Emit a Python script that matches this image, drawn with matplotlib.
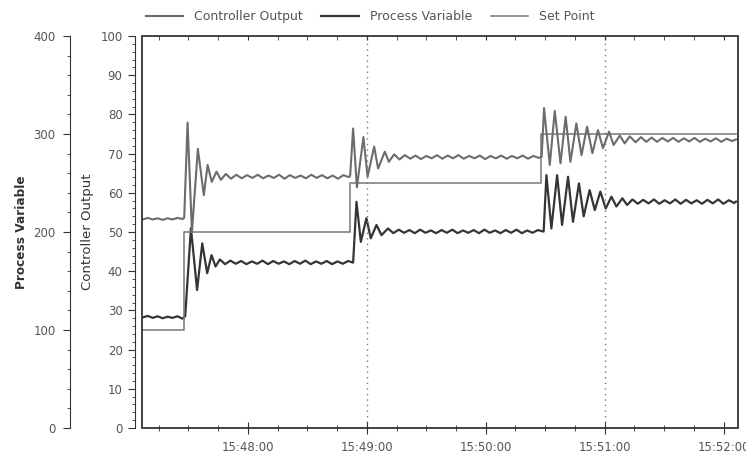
import matplotlib
matplotlib.use("Agg")
import matplotlib.pyplot as plt
from matplotlib.ticker import MultipleLocator, FixedLocator, FuncFormatter
from matplotlib.patches import Rectangle

plt.rcParams['font.family'] = ['DejaVu Sans']

# time in seconds after 15:47:00
co_t = [7, 9.5, 12, 14.5, 17, 19.5, 22, 24.5, 27.2, 27.9,
        29.6, 31.8, 34.8, 37.8, 39.7, 41.8, 44.2, 46.4, 48.9, 51.5, 54.2, 56.9, 59.6,
        62.3, 65.0, 67.7, 70.4, 73.1, 75.8, 78.5, 81.2, 83.9, 86.6, 89.3, 92.0, 94.7,
        97.4, 100.1, 102.8, 105.5, 108.2, 110.9, 111.6,
        113.1, 115.0, 118.3, 120.4, 123.7, 125.7, 129.1, 131.1, 133.8, 136.5, 139.2,
        141.9, 144.6, 147.3, 150.0, 152.7, 155.4, 158.1, 160.8, 163.5, 166.2, 168.9,
        171.6, 174.3, 177.0, 179.7, 182.4, 185.1, 187.8, 190.5, 193.2, 195.9, 198.6,
        201.3, 204.0, 206.7, 208.2,
        209.4, 212.3, 214.8, 217.7, 220.3, 222.7, 225.7, 228.3, 231.1, 233.8, 236.6,
        239.1, 242.2, 244.5, 247.6, 250.1, 252.6, 255.6, 258.3, 261.0, 263.7, 266.4,
        269.1, 271.8, 274.5, 277.2, 279.9, 282.6, 285.3, 288.0, 290.7, 293.4, 296.1,
        298.8, 301.5, 304.2, 306.2]
co_v = [53.2, 53.6, 53.2, 53.5, 53.1, 53.5, 53.2, 53.6, 53.3, 53.6,
        77.9, 50.0, 71.2, 59.4, 67.1, 62.8, 65.4, 63.3, 64.8, 63.6, 64.6, 63.7, 64.5,
        63.8, 64.6, 63.7, 64.4, 63.8, 64.6, 63.6, 64.5, 63.8, 64.4, 63.7, 64.6, 63.8,
        64.5, 63.7, 64.4, 63.6, 64.5, 64.0, 64.3,
        76.4, 61.4, 74.2, 64.1, 71.8, 66.2, 70.5, 67.9, 69.8, 68.5, 69.6,
        68.7, 69.5, 68.6, 69.4, 68.8, 69.6, 68.7, 69.5, 68.8, 69.6, 68.7,
        69.4, 68.8, 69.5, 68.6, 69.4, 68.8, 69.5, 68.7, 69.4, 68.8, 69.5,
        68.7, 69.4, 68.9, 69.2,
        81.6, 67.1, 80.9, 67.5, 79.4, 67.9, 77.7, 69.6, 76.9, 70.1, 76.0,
        71.4, 75.6, 72.2, 74.6, 72.6, 74.4, 72.9, 74.2, 73.0, 74.1, 73.0,
        74.0, 73.1, 74.0, 73.0, 73.9, 73.1, 74.0, 73.0, 73.8, 73.1, 73.9,
        73.0, 73.8, 73.2, 73.6]

pv_t = [7, 9.5, 12, 14.5, 17, 19.5, 22, 24.5, 27.0, 28.4,
        31.3, 34.4, 37.0, 39.5, 41.7, 43.7, 45.9, 48.5, 51.2, 53.9, 56.6, 59.3, 62.0,
        64.7, 67.4, 70.1, 72.8, 75.5, 78.2, 80.9, 83.6, 86.3, 89.0, 91.7, 94.4, 97.1,
        99.8, 102.5, 105.2, 107.9, 110.6, 113.1,
        114.8, 117.0, 119.8, 122.0, 124.9, 127.4, 130.7, 133.4, 136.1, 138.8, 141.5,
        144.2, 146.9, 149.6, 152.3, 155.0, 157.7, 160.4, 163.1, 165.8, 168.5, 171.2,
        173.9, 176.6, 179.3, 182.0, 184.7, 187.4, 190.1, 192.8, 195.5, 198.2, 200.9,
        203.6, 206.3, 209.2,
        210.6, 213.1, 216.0, 218.5, 221.5, 224.0, 227.0, 229.4, 232.4, 235.0, 237.8,
        240.5, 243.4, 245.9, 248.9, 251.3, 254.0, 256.7, 259.4, 262.1, 264.8, 267.5,
        270.2, 272.9, 275.6, 278.3, 281.0, 283.7, 286.4, 289.1, 291.8, 294.5, 297.2,
        299.9, 302.6, 305.3, 306.2]
pv_v = [112.8, 114.4, 112.4, 114.0, 112.0, 113.6, 112.4, 114.0, 111.6, 114.0,
        204.0, 140.8, 188.4, 158.0, 176.4, 164.8, 172.0, 167.2, 170.8, 167.6, 170.4, 167.2, 170.0,
        167.6, 170.8, 167.2, 170.4, 167.6, 170.0, 167.2, 170.4, 167.6, 170.8, 167.2, 170.0, 167.6,
        170.4, 167.2, 170.0, 167.6, 170.4, 168.8,
        230.8, 190.0, 214.0, 193.6, 207.2, 196.8, 203.6, 198.8, 202.4, 199.2, 202.0,
        198.8, 202.4, 199.2, 201.6, 198.8, 202.0, 199.2, 202.4, 198.8, 201.6, 199.2,
        202.0, 198.8, 202.4, 199.2, 201.6, 198.8, 202.0, 199.2, 202.4, 198.8, 201.6,
        199.2, 202.0, 200.4,
        258.0, 203.6, 258.0, 207.2, 256.4, 210.4, 249.6, 216.0, 242.8, 222.4, 241.2,
        224.0, 236.0, 226.0, 234.4, 227.6, 233.2, 228.8, 232.8, 229.2, 233.2, 228.8,
        232.4, 229.2, 233.2, 228.8, 232.8, 229.2, 232.4, 228.8, 232.8, 229.2, 233.2,
        228.8, 232.4, 229.6, 231.0]

sp_t = [6.6, 27.7, 111.4, 208.0, 306.2]
sp_v = [100, 200, 250, 300, 300]

x_ticks = [60, 120, 180, 240, 300]
grid_t = [120, 240]

def fmt_time(s, pos=None):
    s = int(round(s))
    return "15:%02d:%02d" % (47 + s // 60, s % 60)

fig = plt.figure(figsize=(7.46, 4.55), dpi=100)
ax = fig.add_axes([0.1903, 0.0593, 0.7989, 0.8616])
ax2 = ax.twinx()
ax.set_zorder(ax2.get_zorder() + 1)
ax.patch.set_visible(False)

txt = '#555555'
dark = '#333333'

ax.plot(co_t, co_v, color='#6c6c6c', lw=1.5, label='Controller Output')
ax2.plot(pv_t, pv_v, color='#353535', lw=1.6, label='Process Variable')
ax2.plot(sp_t, sp_v, color='#777777', lw=1.1, drawstyle='steps-post', label='Set Point')

for g in grid_t:
    ax.axvline(g, color='#777777', ls=(0, (1, 3)), lw=1.0, zorder=0)

ax.set_xlim(6.6, 307.2)
ax.set_ylim(0, 100)
ax2.set_ylim(0, 400)

# controller output axis (inner), 7 px left of the frame
for s in ['top', 'right', 'bottom']:
    ax.spines[s].set_visible(False)
ax.spines['left'].set_position(('outward', 5))
ax.spines['left'].set_color(dark)
ax.yaxis.set_major_locator(MultipleLocator(10))
ax.yaxis.set_minor_locator(MultipleLocator(2))
ax.tick_params(axis='y', which='major', length=5, color=dark, labelcolor=txt, labelsize=8.5, pad=4)
ax.tick_params(axis='y', which='minor', length=2.2, color=dark)
ax.set_ylabel('Controller Output', color=dark, fontsize=9.5)
ax.yaxis.set_label_coords(-0.0805, 0.5)

# x axis
ax.xaxis.set_major_locator(FixedLocator(x_ticks))
ax.xaxis.set_minor_locator(MultipleLocator(15))
ax.xaxis.set_major_formatter(FuncFormatter(fmt_time))
ax.tick_params(axis='x', which='major', direction='inout', length=8, color=dark, labelcolor=txt, labelsize=8.5, pad=5)
ax.tick_params(axis='x', which='minor', direction='inout', length=4, color=dark)
top = ax.secondary_xaxis('top')
top.xaxis.set_major_locator(FixedLocator(x_ticks))
top.xaxis.set_minor_locator(MultipleLocator(15))
top.tick_params(which='both', direction='in', length=3, color=dark, labeltop=False)
top.spines['top'].set_visible(False)

# frame around the plot area
ax.add_patch(Rectangle((0, 0), 1, 1, transform=ax.transAxes, fill=False,
                       ec=dark, lw=1.3, clip_on=False, zorder=5))

# process variable axis (outer), 72 px left of the frame
for s in ['top', 'right', 'bottom']:
    ax2.spines[s].set_visible(False)
ax2.spines['left'].set_visible(True)
ax2.spines['left'].set_position(('outward', 51.8))
ax2.spines['left'].set_color(dark)
ax2.yaxis.set_ticks_position('left')
ax2.yaxis.set_label_position('left')
ax2.yaxis.set_major_locator(MultipleLocator(100))
ax2.yaxis.set_minor_locator(MultipleLocator(20))
ax2.tick_params(axis='y', which='major', length=5, color=dark, labelcolor=txt, labelsize=8.5, pad=5.5)
ax2.tick_params(axis='y', which='minor', length=2.2, color=dark)
ax2.set_ylabel('Process Variable', color=dark, fontsize=8.7, fontweight='bold')
ax2.yaxis.set_label_coords(-0.191, 0.5)

h1, l1 = ax.get_legend_handles_labels()
h2, l2 = ax2.get_legend_handles_labels()
fig.legend(h1 + h2, l1 + l2, loc='center', bbox_to_anchor=(0.496, 0.963), ncol=3,
           frameon=False, fontsize=9, handlelength=3.0, columnspacing=1.5,
           handletextpad=0.85, labelcolor=txt)

fig.savefig('out.png', dpi=100)
